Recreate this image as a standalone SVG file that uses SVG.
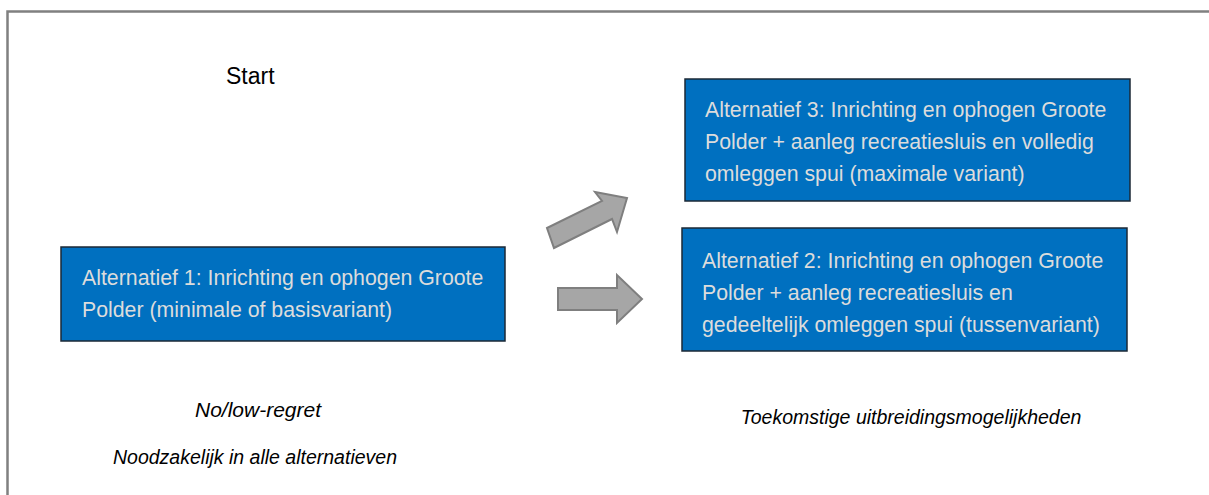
<svg xmlns="http://www.w3.org/2000/svg" width="1209" height="495" viewBox="0 0 1209 495">
<style>
.box{fill:#0070c0;stroke:#1b2836;stroke-width:1.5}
.bt{font-family:"Liberation Sans",Arial,sans-serif;font-size:21.3px;fill:#dcdcdc}
.it{font-family:"Liberation Sans",Arial,sans-serif;font-style:italic;fill:#000}
.arr{fill:#a6a6a6;stroke:#7f7f7f;stroke-width:2;stroke-linejoin:miter}
</style>
<rect width="1209" height="495" fill="#fff"/>
<path d="M7.5,495 V11.5 H1209" fill="none" stroke="#808080" stroke-width="2.5"/>
<text x="226" y="84" font-family="Liberation Sans,Arial,sans-serif" font-size="23" fill="#000">Start</text>
<g id="alt1">
<rect class="box" x="61" y="247" width="444" height="94"/>
<text class="bt" x="82" y="285">Alternatief 1: Inrichting en ophogen Groote</text>
<text class="bt" x="82" y="317">Polder (minimale of basisvariant)</text>
</g>
<g id="alt3">
<rect class="box" x="685" y="79" width="445" height="122"/>
<text class="bt" x="705" y="117">Alternatief 3: Inrichting en ophogen Groote</text>
<text class="bt" x="705" y="149">Polder + aanleg recreatiesluis en volledig</text>
<text class="bt" x="705" y="181">omleggen spui (maximale variant)</text>
</g>
<g id="alt2">
<rect class="box" x="682" y="228" width="445" height="123"/>
<text class="bt" x="702" y="268">Alternatief 2: Inrichting en ophogen Groote</text>
<text class="bt" x="702" y="300">Polder + aanleg recreatiesluis en</text>
<text class="bt" x="702" y="332">gedeeltelijk omleggen spui (tussenvariant)</text>
</g>
<g id="connectors">
<polygon class="arr" points="547,228 602,201 595,192 627,198 617,232 612,219 554,248"/>
<polygon class="arr" points="558,288 617,288 617,275 642,299 617,323 617,310 558,310"/>
</g>
<g id="labels">
<text class="it" x="258" y="417" font-size="21" text-anchor="middle">No/low-regret</text>
<text class="it" x="255" y="464" font-size="19.5" text-anchor="middle">Noodzakelijk in alle alternatieven</text>
<text class="it" x="911" y="424" font-size="19.5" text-anchor="middle">Toekomstige uitbreidingsmogelijkheden</text>
</g>
</svg>
